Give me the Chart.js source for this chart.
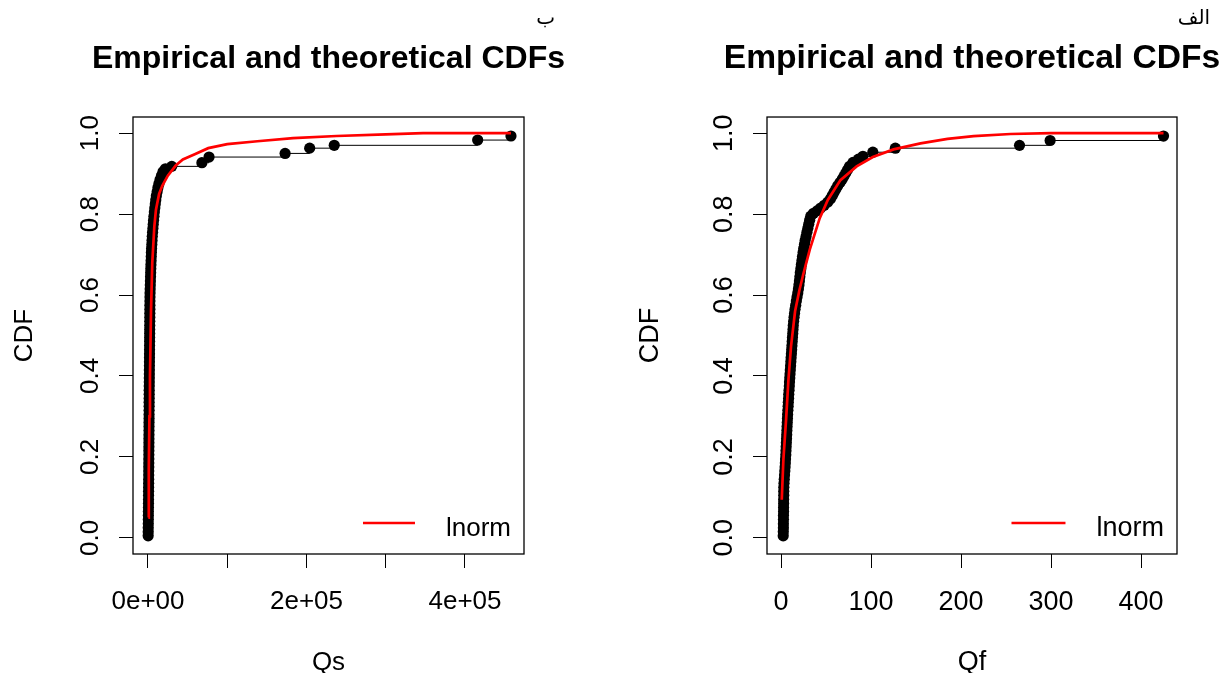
<!DOCTYPE html>
<html><head><meta charset="utf-8">
<script src="https://cdn.jsdelivr.net/npm/chart.js@4.4.1/dist/chart.umd.min.js"></script>
<style>
html,body{margin:0;padding:0;background:#fff;overflow:hidden;}
#wrap{position:relative;width:1224px;height:673px;background:#fff;overflow:hidden;}
canvas{position:absolute;top:0;}
</style></head><body>
<div id="wrap">
<canvas id="cQs" width="657" height="673" style="left:0px"></canvas>
<canvas id="cQf" width="720" height="673" style="left:612px"></canvas>
</div>
<script>
// ---- tick values and labels ----
const yTicks = [0, 0.2, 0.4, 0.6, 0.8, 1.0];
const yTickLabels = ["0.0", "0.2", "0.4", "0.6", "0.8", "1.0"];
const qsTicks = [0, 100000, 200000, 300000, 400000];
const qsTickLabels = ["0e+00", "", "2e+05", "", "4e+05"];
const qfTicks = [0, 100, 200, 300, 400];
const qfTickLabels = ["0", "100", "200", "300", "400"];

// ---- panel ب : Qs empirical CDF (sorted values, cumulative proportion) ----
const qsEcdfX = [200, 250, 300, 350, 400, 450, 500, 550, 600, 640,
  680, 720, 760, 800, 840, 880, 920, 960, 1000, 1030,
  1060, 1090, 1120, 1150, 1180, 1210, 1240, 1270, 1300, 1330,
  1360, 1390, 1420, 1450, 1480, 1510, 1540, 1580, 1620, 1660,
  1700, 1740, 1780, 1820, 1860, 1900, 1940, 1980, 2020, 2060,
  2100, 2140, 2180, 2220, 2260, 2300, 2350, 2400, 2450, 2500,
  2600, 2750, 2900, 3050, 3200, 3350, 3500, 3700, 3900, 4100,
  4300, 4500, 4800, 5100, 5400, 5800, 6200, 6600, 7000, 7500,
  8000, 8600, 9200, 9800, 10500, 11500, 12500, 13800, 15200, 17000,
  19000, 22000, 30000, 68000, 77000, 173000, 204000, 235000, 416000, 458000];
const qsEcdfF = [0.005, 0.015, 0.025, 0.035, 0.045, 0.055, 0.065, 0.075, 0.085, 0.095,
  0.105, 0.115, 0.125, 0.135, 0.145, 0.155, 0.165, 0.175, 0.185, 0.195,
  0.205, 0.215, 0.225, 0.235, 0.245, 0.255, 0.265, 0.275, 0.285, 0.295,
  0.305, 0.315, 0.325, 0.335, 0.345, 0.355, 0.365, 0.375, 0.385, 0.395,
  0.405, 0.415, 0.425, 0.435, 0.445, 0.455, 0.465, 0.475, 0.485, 0.495,
  0.505, 0.515, 0.525, 0.535, 0.545, 0.555, 0.565, 0.575, 0.585, 0.595,
  0.605, 0.615, 0.625, 0.635, 0.645, 0.655, 0.665, 0.675, 0.685, 0.695,
  0.705, 0.715, 0.725, 0.735, 0.745, 0.755, 0.765, 0.775, 0.785, 0.795,
  0.805, 0.815, 0.825, 0.835, 0.845, 0.855, 0.865, 0.875, 0.885, 0.895,
  0.905, 0.912, 0.918, 0.927, 0.941, 0.950, 0.963, 0.970, 0.983, 0.993];
// ---- panel ب : fitted lognormal CDF ----
const qsLnormX = [400, 1000, 1800, 2500, 3800, 5400, 8000, 10000, 14000, 18000,
  25000, 35000, 44000, 59000, 76000, 100000, 138000, 183000, 238000, 300000,
  347000, 458000];
const qsLnormF = [0.05, 0.17, 0.30, 0.40, 0.56, 0.68, 0.77, 0.81, 0.85, 0.87,
  0.895, 0.92, 0.935, 0.948, 0.963, 0.973, 0.98, 0.988, 0.993, 0.997,
  1.0, 1.0];

// ---- panel الف : Qf empirical CDF ----
const qfEcdfX = [2.4, 2.5, 2.6, 2.6, 2.7, 2.7, 2.8, 2.8, 2.9, 2.9,
  3.0, 3.0, 3.1, 3.3, 3.6, 3.9, 4.2, 4.5, 4.8, 5.0,
  5.3, 5.5, 5.7, 5.9, 6.1, 6.3, 6.5, 6.7, 6.9, 7.1,
  7.3, 7.6, 7.9, 8.1, 8.4, 8.6, 8.9, 9.2, 9.4, 9.7,
  10.0, 10.3, 10.6, 10.9, 11.2, 11.5, 11.8, 12.1, 12.4, 12.7,
  13.0, 13.3, 13.6, 14.0, 14.5, 15.0, 15.6, 16.3, 17.0, 17.8,
  18.6, 19.3, 19.9, 20.4, 20.9, 21.4, 22.0, 22.6, 23.2, 23.8,
  24.5, 25.2, 26.0, 26.8, 27.8, 28.8, 29.8, 30.8, 31.8, 33.0,
  36, 40, 44, 48, 52, 55, 57, 59, 61, 63,
  65.5, 68, 70, 72, 74, 76, 80, 86, 91, 102,
  127, 265, 299, 425];
const qfEcdfF = [0.005, 0.015, 0.025, 0.035, 0.045, 0.055, 0.065, 0.075, 0.085, 0.095,
  0.105, 0.115, 0.125, 0.135, 0.145, 0.155, 0.165, 0.175, 0.185, 0.195,
  0.205, 0.215, 0.225, 0.235, 0.245, 0.255, 0.265, 0.275, 0.285, 0.295,
  0.305, 0.315, 0.325, 0.335, 0.345, 0.355, 0.365, 0.375, 0.385, 0.395,
  0.405, 0.415, 0.425, 0.435, 0.445, 0.455, 0.465, 0.475, 0.485, 0.495,
  0.505, 0.515, 0.525, 0.535, 0.545, 0.555, 0.565, 0.575, 0.585, 0.595,
  0.605, 0.615, 0.625, 0.635, 0.645, 0.655, 0.665, 0.675, 0.685, 0.695,
  0.705, 0.715, 0.725, 0.735, 0.745, 0.755, 0.765, 0.775, 0.785, 0.795,
  0.802, 0.808, 0.815, 0.822, 0.830, 0.838, 0.846, 0.854, 0.862, 0.870,
  0.878, 0.886, 0.894, 0.902, 0.910, 0.918, 0.928, 0.936, 0.943, 0.953,
  0.963, 0.970, 0.982, 0.993];
// ---- panel الف : fitted lognormal CDF ----
const qfLnormX = [0.8, 2.6, 5.6, 8.2, 11.1, 15.6, 20.4, 24.8, 32, 43,
  52, 66, 84, 102, 125, 155, 185, 214, 255, 300, 425];
const qfLnormF = [0.094, 0.193, 0.292, 0.39, 0.473, 0.56, 0.612, 0.652, 0.713, 0.79,
  0.835, 0.884, 0.918, 0.941, 0.96, 0.975, 0.986, 0.993, 0.998, 1.0, 1.0];

const FONT = "'Liberation Sans', Arial, Helvetica, sans-serif";
const TITLE_TEXT = 'Empirical and theoretical CDFs';
Chart.defaults.font.family = FONT;
Chart.defaults.color = '#000';

function pairs(xs, ys) { return xs.map((x, i) => ({x: x, y: ys[i]})); }
function stepSegments(xs, ys) {
  const out = [];
  for (let i = 0; i < xs.length - 1; i++) {
    out.push({x: xs[i], y: ys[i]}, {x: xs[i + 1], y: ys[i]}, {x: xs[i + 1], y: null});
  }
  return out;
}

const boxPlugin = {
  id: 'plotBox',
  afterDatasetsDraw(chart) {
    const a = chart.chartArea, c = chart.ctx;
    c.save();
    c.strokeStyle = '#000';
    c.lineWidth = 1.3;
    c.strokeRect(a.left, a.top, a.right - a.left, a.bottom - a.top);
    c.restore();
  }
};

const insetLegend = {
  id: 'insetLegend',
  afterDraw(chart, args, opts) {
    const a = chart.chartArea, c = chart.ctx;
    const ds = chart.data.datasets[0];
    c.save();
    c.font = opts.size + 'px ' + FONT;
    const tw = c.measureText(ds.label).width;
    const tx = a.right - 13 - tw;
    const ly = a.bottom - 31;
    c.strokeStyle = ds.borderColor;
    c.lineWidth = ds.borderWidth;
    c.beginPath();
    c.moveTo(tx - 31 - opts.len, ly);
    c.lineTo(tx - 31, ly);
    c.stroke();
    c.fillStyle = '#000';
    c.textBaseline = 'alphabetic';
    c.textAlign = 'left';
    c.fillText(ds.label, tx, a.bottom - 18);
    c.restore();
  }
};

// small panel tag (ب / الف) drawn right-aligned just above the end of the title
const cornerTag = {
  id: 'cornerTag',
  afterDraw(chart, args, opts) {
    const c = chart.ctx, tb = chart.titleBlock;
    c.save();
    c.font = 'bold ' + opts.titleSize + 'px ' + FONT;
    const tw = c.measureText(TITLE_TEXT).width;
    const cx = (tb.left + tb.right) / 2;
    c.font = "20px 'DejaVu Sans', sans-serif";
    c.textAlign = 'right';
    c.textBaseline = 'middle';
    c.fillStyle = '#000';
    c.fillText(opts.text, cx + tw / 2 - 10, 19);
    c.restore();
  }
};

function makePanel(id, P) {
  return new Chart(document.getElementById(id), {
    type: 'scatter',
    data: {
      datasets: [
        {type: 'line', label: 'lnorm', data: pairs(P.lnX, P.lnF), borderColor: '#ff0000',
          borderWidth: 2.7, pointRadius: 0, fill: false, tension: 0},
        {type: 'line', label: 'ecdf', data: stepSegments(P.ex, P.ef), borderColor: '#000',
          borderWidth: 1, pointRadius: 0, fill: false, spanGaps: false, tension: 0},
        {type: 'scatter', label: 'obs', data: pairs(P.ex, P.ef), pointRadius: 5.6,
          pointBackgroundColor: '#000', pointBorderWidth: 0, pointBorderColor: '#000'}
      ]
    },
    options: {
      responsive: false, animation: false, devicePixelRatio: 1,
      layout: {padding: 0},
      plugins: {
        legend: {display: false},
        tooltip: {enabled: false},
        cornerTag: {text: P.tag, titleSize: P.titleSize},
        insetLegend: {size: P.fs, len: P.legLen},
        title: {display: true, text: TITLE_TEXT, color: '#000',
          font: {size: P.titleSize, weight: 'bold', lineHeight: 1.2},
          padding: {top: P.tPadTop, bottom: P.tPadBot}}
      },
      scales: {
        x: {
          type: 'linear', position: 'bottom', min: P.xmin, max: P.xmax,
          afterBuildTicks: s => { s.ticks = P.xt.map(v => ({value: v})); },
          afterFit: s => { s.height = 119; },
          ticks: {callback: (v, i) => P.xtl[i], font: {size: P.fs}, padding: 18, autoSkip: false,
            maxRotation: 0, minRotation: 0, color: '#000'},
          grid: {drawOnChartArea: false, tickLength: 14, color: '#000', lineWidth: 1},
          border: {display: false},
          title: {display: true, text: P.xlab, color: '#000', font: {size: P.fs, lineHeight: 0.8}, padding: 0}
        },
        y: {
          type: 'linear', position: 'left', min: -0.04, max: 1.04,
          afterBuildTicks: s => { s.ticks = yTicks.map(v => ({value: v})); },
          afterFit: s => { s.width = P.yW; },
          ticks: {callback: (v, i) => yTickLabels[i], font: {size: P.fs}, padding: 10, autoSkip: false,
            minRotation: 90, maxRotation: 90, crossAlign: 'center', color: '#000'},
          grid: {drawOnChartArea: false, tickLength: 14, color: '#000', lineWidth: 1},
          border: {display: false},
          title: {display: true, text: 'CDF', color: '#000', font: {size: P.fs, lineHeight: 1.2},
            padding: {top: P.yTitlePad, bottom: 0}}
        },
        yR: {
          type: 'linear', position: 'right', display: true,
          afterFit: s => { s.width = P.yW; },
          ticks: {display: false}, grid: {display: false}, border: {display: false}
        }
      }
    },
    plugins: [boxPlugin, insetLegend, cornerTag]
  });
}

makePanel('cQs', {
  tag: 'ب', xlab: 'Qs', yW: 133, yTitlePad: 9.4, fs: 26, titleSize: 32, legLen: 52,
  tPadTop: 39.8, tPadBot: 38.8,
  xmin: -18927, xmax: 474448, xt: qsTicks, xtl: qsTickLabels,
  ex: qsEcdfX, ef: qsEcdfF, lnX: qsLnormX, lnF: qsLnormF
});
makePanel('cQf', {
  tag: 'الف', xlab: 'Qf', yW: 155, yTitlePad: 22.4, fs: 27, titleSize: 33.6, legLen: 54,
  tPadTop: 38.8, tPadBot: 37.9,
  xmin: -15.6, xmax: 440, xt: qfTicks, xtl: qfTickLabels,
  ex: qfEcdfX, ef: qfEcdfF, lnX: qfLnormX, lnF: qfLnormF
});
</script>
</body></html>
